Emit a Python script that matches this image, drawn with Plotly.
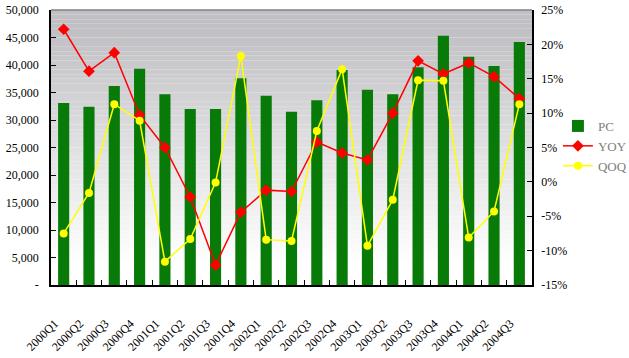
import plotly.graph_objects as go

categories = ["2000Q1", "2000Q2", "2000Q3", "2000Q4", "2001Q1", "2001Q2", "2001Q3", "2001Q4",
              "2002Q1", "2002Q2", "2002Q3", "2002Q4", "2003Q1", "2003Q2", "2003Q3", "2003Q4",
              "2004Q1", "2004Q2", "2004Q3"]
pc = [33100, 32400, 36200, 39300, 34700, 32000, 32000, 37600, 34400, 31500, 33600, 39100,
      35500, 34700, 39600, 45300, 41500, 39800, 44200]
yoy = [22.2, 16.1, 18.8, 9.7, 5.0, -2.2, -12.1, -4.4, -1.2, -1.4, 5.8, 4.2, 3.2, 10.0,
       17.6, 15.7, 17.3, 15.3, 12.1]
qoq = [-7.5, -1.6, 11.3, 8.9, -11.6, -8.3, -0.1, 18.3, -8.4, -8.6, 7.4, 16.4, -9.3, -2.6,
       14.8, 14.7, -8.1, -4.3, 11.3]
left_tickvals = [0, 5000, 10000, 15000, 20000, 25000, 30000, 35000, 40000, 45000, 50000]
left_ticktext = ["-", "5,000", "10,000", "15,000", "20,000", "25,000", "30,000", "35,000",
                 "40,000", "45,000", "50,000"]
right_tickvals = [-15, -10, -5, 0, 5, 10, 15, 20, 25]
right_ticktext = ["-15%", "-10%", "-5%", "0%", "5%", "10%", "15%", "20%", "25%"]

FONT = "Liberation Serif"

fig = go.Figure()
fig.add_trace(go.Bar(x=categories, y=pc, name="PC", marker=dict(color="#087a08", line_width=0),
                     yaxis="y"))
fig.add_trace(go.Scatter(x=categories, y=yoy, name="YOY", mode="lines+markers",
                         line=dict(color="#ff0000", width=1.5),
                         marker=dict(symbol="diamond", size=9, color="#ff0000"), yaxis="y2"))
fig.add_trace(go.Scatter(x=categories, y=qoq, name="QOQ", mode="lines+markers",
                         line=dict(color="#ffff00", width=1.5),
                         marker=dict(symbol="circle", size=8, color="#ffff00"), yaxis="y2"))

# gradient background bands
shapes = []
n = 60
top = (192, 191, 195)
for i in range(n):
    y0 = i / n
    y1 = (i + 1) / n
    mid = (y0 + y1) / 2  # 0 bottom, 1 top
    t = min(1.0, max(0.0, (mid - 0.08) / 0.85))
    c = tuple(int(round(255 - (255 - tc) * t)) for tc in top)
    shapes.append(dict(type="rect", xref="x domain", yref="y domain", x0=0, x1=1, y0=y0, y1=y1,
                       fillcolor="rgb(%d,%d,%d)" % c, line_width=0, layer="below"))
shapes.append(dict(type="line", xref="x domain", yref="y domain", x0=0, x1=1, y0=1, y1=1,
                   line=dict(color="#808080", width=1.5)))

fig.update_layout(
    width=629, height=358,
    margin=dict(l=51, r=97, t=10, b=73, autoexpand=False),
    paper_bgcolor="white", plot_bgcolor="white",
    font=dict(family=FONT, size=12, color="#000000"),
    bargap=0.56,
    shapes=shapes,
    showlegend=True,
    legend=dict(xref="container", yref="container", x=0.887, y=0.69,
                xanchor="left", yanchor="top",
                font=dict(family=FONT, size=13, color="#808080"),
                bgcolor="rgba(0,0,0,0)", itemwidth=30, tracegroupgap=0),
    xaxis=dict(type="category", range=[-0.5, 18.5], tickangle=-45, showgrid=False,
               showline=True, automargin=False,
               linecolor="black", linewidth=1.5, ticks="inside", tickson="boundaries",
               ticklen=5, tickcolor="black", tickfont=dict(family=FONT, size=12, color="#000"),
               ticklabelstandoff=25, ticklabelshift=-9),
    yaxis=dict(range=[0, 50000], tickvals=left_tickvals, ticktext=left_ticktext,
               showgrid=False, zeroline=False, showline=True, linecolor="black", linewidth=1.5,
               ticks="inside", ticklen=5, tickcolor="black", automargin=False,
               ticklabelstandoff=8,
               tickfont=dict(family=FONT, size=12, color="#000")),
    yaxis2=dict(range=[-15, 25], tickvals=right_tickvals, ticktext=right_ticktext,
                overlaying="y", side="right", showgrid=False, zeroline=False, showline=True,
                linecolor="black", linewidth=1.5, ticks="inside", ticklen=5, tickcolor="black",
                automargin=False, ticklabelstandoff=5,
                tickfont=dict(family=FONT, size=12, color="#000")),
)

fig.write_html("out.html", config={"displayModeBar": False},
               post_script="document.body.style.margin='0';document.body.style.padding='0';")
